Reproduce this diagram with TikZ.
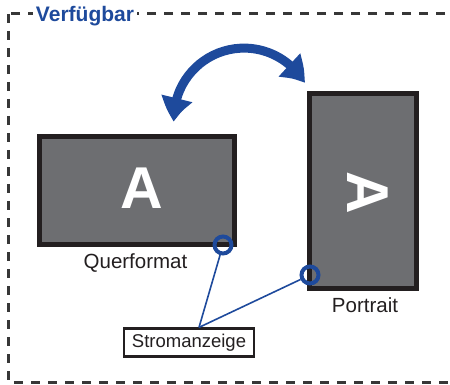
\documentclass[tikz,border=0pt]{standalone}
\usepackage{fontspec}
\setmainfont{Liberation Sans}
\usetikzlibrary{positioning,arrows.meta,bending}
\definecolor{colorframe}  {RGB}{ 55, 55, 55}
\definecolor{colorblue}   {RGB}{ 30, 74,156}
\definecolor{colorscreen} {RGB}{109,110,113}
\definecolor{colorbezel}  {RGB}{ 35, 31, 32}
\definecolor{colortext}   {RGB}{ 35, 31, 32}

\begin{document}
\begin{tikzpicture}[
    x=1pt, y=1pt,
    title/.style={text=colorblue,fill=white,inner sep=3pt,font={\fontsize{21}{21}\selectfont\bfseries}},
    screen/.style={draw=colorbezel,fill=colorscreen,line width=5pt,inner sep=0pt},
    letter/.style={text=white,font={\fontsize{59}{59}\selectfont\bfseries}},
    label/.style={text=colortext,font={\fontsize{20.5}{20.5}\selectfont}},
    power/.style={circle,draw=colorblue,line width=4pt,minimum size=17pt,inner sep=0pt},
    callout/.style={draw=colorbezel,line width=2.2pt,fill=white,text=colortext,minimum width=130pt,minimum height=28pt,inner sep=0pt,font={\fontsize{18.5}{18.5}\selectfont}}
]
    \useasboundingbox (0,0) rectangle (450,-385);

    % Frame
    \draw[colorframe,line width=3pt,dash pattern=on 9pt off 8pt] (8,-14) rectangle (462,-382);
    \node[title] (avail) at (85,-16) {Verfügbar};

    % Landscape screen
    \node[screen,minimum width=195pt,minimum height=108pt] (land) at (137,-190.5) {};
    \node[letter] (landA) at (142,-188) {A};
    \node[label] (landlab) at (135.5,-263.5) {Querformat};

    % Portrait screen
    \node[screen,minimum width=107pt,minimum height=195pt] (port) at (363,-191) {};
    \node[letter,rotate=-90] (portA) at (368,-193) {A};
    \node[label] (portlab) at (365,-305) {Portrait};

    % Rotation arrow
    \draw[colorblue,line width=9pt,{Triangle[length=24pt,width=30pt,bend]}-{Triangle[length=24pt,width=30pt,bend]}]
        (246,-118) ++(183:72) arc (183:30:70);

    % Power indicators
    \node[power] (landpow) at (223,-245) {};
    \node[power] (portpow) at (310,-275) {};

    % Callout
    \node[callout] (strom) at (189,-342.5) {Stromanzeige};
    \coordinate (meet) at ([xshift=10pt]strom.north);
    \draw[colorblue,line width=1.6pt] (landpow) -- (meet);
    \draw[colorblue,line width=1.6pt] (portpow) -- (meet);

\end{tikzpicture}
\end{document}
